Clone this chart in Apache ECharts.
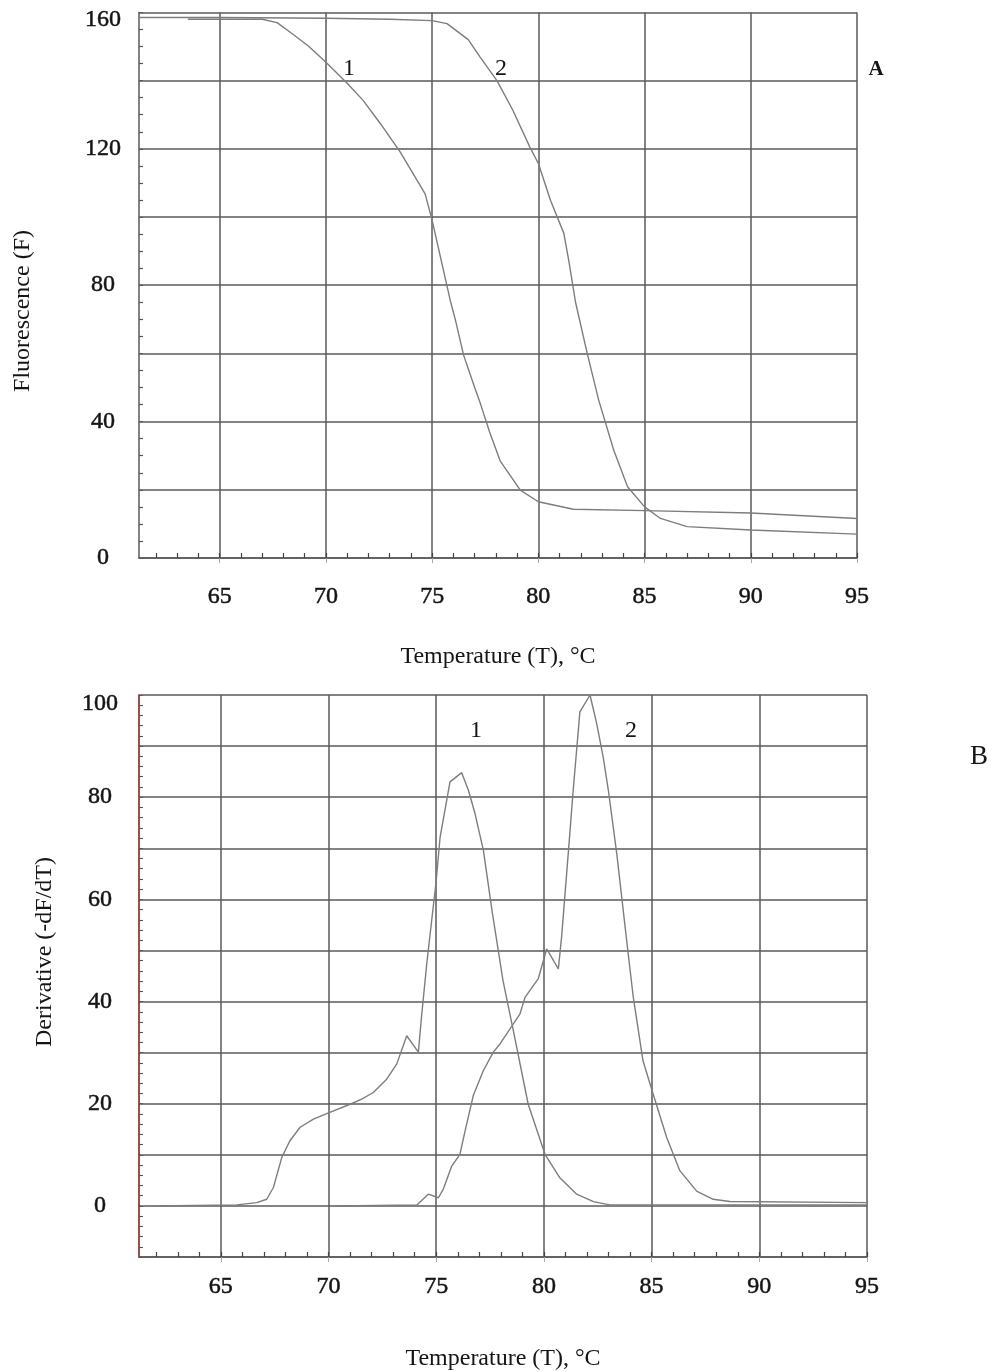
<!DOCTYPE html>
<html>
<head>
<meta charset="utf-8">
<script src="https://cdn.jsdelivr.net/npm/echarts@6.0.0/dist/echarts.min.js"></script>
<style>
html,body{margin:0;padding:0;background:#fff;}
#chart{width:993px;height:1372px;}
</style>
</head>
<body>
<div id="chart"></div>
<script>
// ---- Data ----
// Panel A: fluorescence melting curves
var tempA1 = [63.5, 65, 67, 67.7, 68.4, 69.2, 70, 71, 71.75, 72.55, 73.5, 74.67, 75, 75.85, 76.1, 76.48, 77.03, 77.26, 77.7, 78.2, 79.15, 80, 81.65, 85, 90, 95];
var fluorA1 = [158, 158, 158, 157, 153.8, 150, 145.4, 139.2, 134.2, 127.5, 119, 106.8, 99, 75.6, 69.7, 59.5, 49.5, 45.5, 37, 28.5, 19.9, 16.5, 14.3, 13.9, 13.2, 11.6];
var tempA2 = [61.2, 65, 70, 73, 75, 75.7, 76.7, 77.26, 78.05, 78.8, 79.6, 80, 80.57, 81.2, 81.43, 81.75, 82.3, 82.84, 83.55, 84.2, 85, 85.75, 87, 90, 95];
var fluorA2 = [158.5, 158.5, 158.3, 158, 157.6, 156.7, 152, 146.9, 140, 131.3, 120.5, 115.7, 104.9, 95.2, 87.3, 75, 60, 46.3, 31.6, 20.9, 15, 11.6, 9.2, 8.2, 7.0];
// Panel B: derivative curves
var tempB1 = [61.86, 65.74, 66.67, 67.13, 67.44, 67.83, 68.2, 68.68, 69.3, 70, 71, 71.54, 72.08, 72.7, 73.17, 73.63, 74.17, 74.33, 74.56, 75, 75.18, 75.64, 76.18, 76.49, 76.8, 77.19, 77.6, 78.1, 78.58, 79.27, 80.05, 80.74, 81.52, 82.3, 83.06, 95];
var derivB1 = [0, 0.2, 0.65, 1.3, 3.6, 9.5, 12.7, 15.4, 17, 18.2, 19.9, 20.9, 22.2, 24.8, 27.8, 33.3, 30.1, 37.6, 47.4, 63.7, 72.2, 83, 84.8, 81.4, 76.8, 69.6, 57.5, 44.1, 34.3, 19.9, 10.1, 5.5, 2.3, 0.85, 0.2, 0.2];
var tempB2 = [70.38, 74.1, 74.63, 75.1, 75.33, 75.72, 76.1, 76.34, 76.72, 77.19, 77.65, 77.96, 78.89, 79.12, 79.74, 80.13, 80.67, 80.82, 81.13, 81.36, 81.67, 82.14, 82.45, 82.75, 82.99, 83.38, 83.84, 84.15, 84.6, 85.07, 85.7, 86.31, 87.09, 87.86, 88.63, 95];
var derivB2 = [0, 0.2, 2.3, 1.6, 3.3, 7.8, 10.1, 14.7, 21.6, 26.5, 30.1, 31.7, 37.6, 40.8, 44.5, 50.3, 46.4, 52.6, 69, 81.4, 96.7, 100, 94.4, 87.9, 81.4, 69, 52, 40.8, 28.4, 21.9, 13.4, 6.9, 2.9, 1.3, 0.85, 0.65];
// Tick values
var xMajorTicks = [65, 70, 75, 80, 85, 90, 95];
var xMinorTicks = [62,63,64,65,66,67,68,69,70,71,72,73,74,75,76,77,78,79,80,81,82,83,84,85,86,87,88,89,90,91,92,93,94,95];

function zip(xs, ys){ return xs.map(function(x,i){ return [x, ys[i]]; }); }

var FONT = "'Liberation Serif', 'Times New Roman', serif";
var GRID = '#5a5a5a';
var CURVE = '#7d7d7d';
var TXT = '#151515';

function majorX(grid, margin, name, gap){
  return {
    type:'value', gridIndex:grid, position:'bottom', min:61.2, max:95,
    axisLine:{show:true, onZero:false, lineStyle:{color:GRID, width:1.5}},
    axisTick:{show:true, customValues:xMajorTicks, length:5, lineStyle:{color:'#aaa', width:1}},
    axisLabel:{customValues:xMajorTicks, fontFamily:FONT, fontSize:24, color:TXT, margin:margin,
      textBorderColor:TXT, textBorderWidth:0.5},
    splitLine:{show:true, lineStyle:{color:GRID, width:1.5}},
    name:name, nameLocation:'middle', nameGap:gap,
    nameTextStyle:{fontFamily:FONT, fontSize:24, color:TXT}
  };
}
function minorX(grid){
  return {
    type:'value', gridIndex:grid, position:'bottom', min:61.2, max:95,
    axisLine:{show:false, onZero:false},
    axisTick:{show:true, inside:true, customValues:xMinorTicks, length:5, lineStyle:{color:'#444', width:1.2}},
    axisLabel:{show:false},
    splitLine:{show:false}
  };
}

var option = {
  animation:false,
  backgroundColor:'#ffffff',
  grid:[
    {left:139, top:12.4, width:718, height:545.6},
    {left:139, top:695, width:728, height:563}
  ],
  xAxis:[
    majorX(0, 27, 'Temperature (T), °C', 87),
    minorX(0),
    majorX(1, 18, 'Temperature (T), °C', 90),
    minorX(1)
  ],
  yAxis:[
    {
      type:'value', gridIndex:0, min:0, max:160, interval:20,
      axisLine:{show:true, lineStyle:{color:GRID, width:1.5}},
      axisTick:{show:true, inside:true, length:4, lineStyle:{color:GRID}},
      minorTick:{show:true, splitNumber:4, length:4, lineStyle:{color:'#555', width:1.2}},
      axisLabel:{fontFamily:FONT, fontSize:24, color:TXT, align:'center', margin:36,
        textBorderColor:TXT, textBorderWidth:0.5,
        rich:{t:{fontFamily:FONT, fontSize:24, color:TXT, textBorderColor:TXT, textBorderWidth:0.5, padding:[15,0,0,0]}},
        formatter:function(v){ if (v === 160) return '{t|160}'; return v % 40 === 0 ? String(v) : ''; }},
      splitLine:{show:true, lineStyle:{color:GRID, width:1.5}}
    },
    {
      type:'value', gridIndex:1, min:-10, max:100, interval:10,
      axisLine:{show:true, lineStyle:{color:'#8b1f1f', width:1.6}},
      axisTick:{show:true, inside:true, length:4, lineStyle:{color:GRID}},
      minorTick:{show:true, splitNumber:5, length:4, lineStyle:{color:'#555', width:1.1}},
      axisLabel:{fontFamily:FONT, fontSize:24, color:TXT, align:'center', margin:39,
        textBorderColor:TXT, textBorderWidth:0.5,
        rich:{t:{fontFamily:FONT, fontSize:24, color:TXT, textBorderColor:TXT, textBorderWidth:0.5, padding:[17,0,0,0]}},
        formatter:function(v){ if (v === 100) return '{t|100}'; return v % 20 === 0 ? String(v) : ''; }},
      splitLine:{show:true, lineStyle:{color:GRID, width:1.5}}
    }
  ],
  series:[
    {type:'line', xAxisIndex:0, yAxisIndex:0, data:zip(tempA1, fluorA1), showSymbol:false, lineStyle:{color:CURVE, width:1.4}},
    {type:'line', xAxisIndex:0, yAxisIndex:0, data:zip(tempA2, fluorA2), showSymbol:false, lineStyle:{color:CURVE, width:1.4}},
    {type:'line', xAxisIndex:2, yAxisIndex:1, data:zip(tempB1, derivB1), showSymbol:false, lineStyle:{color:CURVE, width:1.4}},
    {type:'line', xAxisIndex:2, yAxisIndex:1, data:zip(tempB2, derivB2), showSymbol:false, lineStyle:{color:CURVE, width:1.4}}
  ],
  graphic:[
    {type:'text', x:23, y:311, rotation:Math.PI/2, style:{text:'Fluorescence (F)', font:'24px '+FONT, fill:TXT, textAlign:'center', textVerticalAlign:'middle'}},
    {type:'text', x:45, y:952, rotation:Math.PI/2, style:{text:'Derivative (-dF/dT)', font:'24px '+FONT, fill:TXT, textAlign:'center', textVerticalAlign:'middle'}},
    {type:'text', x:349, y:69, style:{text:'1', font:'24px '+FONT, fill:TXT, textAlign:'center', textVerticalAlign:'middle'}},
    {type:'text', x:501, y:69, style:{text:'2', font:'24px '+FONT, fill:TXT, textAlign:'center', textVerticalAlign:'middle'}},
    {type:'text', x:876, y:70, style:{text:'A', font:'bold 21px '+FONT, fill:TXT, textAlign:'center', textVerticalAlign:'middle'}},
    {type:'text', x:476, y:731, style:{text:'1', font:'24px '+FONT, fill:TXT, textAlign:'center', textVerticalAlign:'middle'}},
    {type:'text', x:631, y:731, style:{text:'2', font:'24px '+FONT, fill:TXT, textAlign:'center', textVerticalAlign:'middle'}},
    {type:'text', x:979, y:757, style:{text:'B', font:'27px '+FONT, fill:TXT, textAlign:'center', textVerticalAlign:'middle'}}
  ]
};

var chart = echarts.init(document.getElementById('chart'), null, {renderer:'canvas'});
chart.setOption(option);
</script>
</body>
</html>
